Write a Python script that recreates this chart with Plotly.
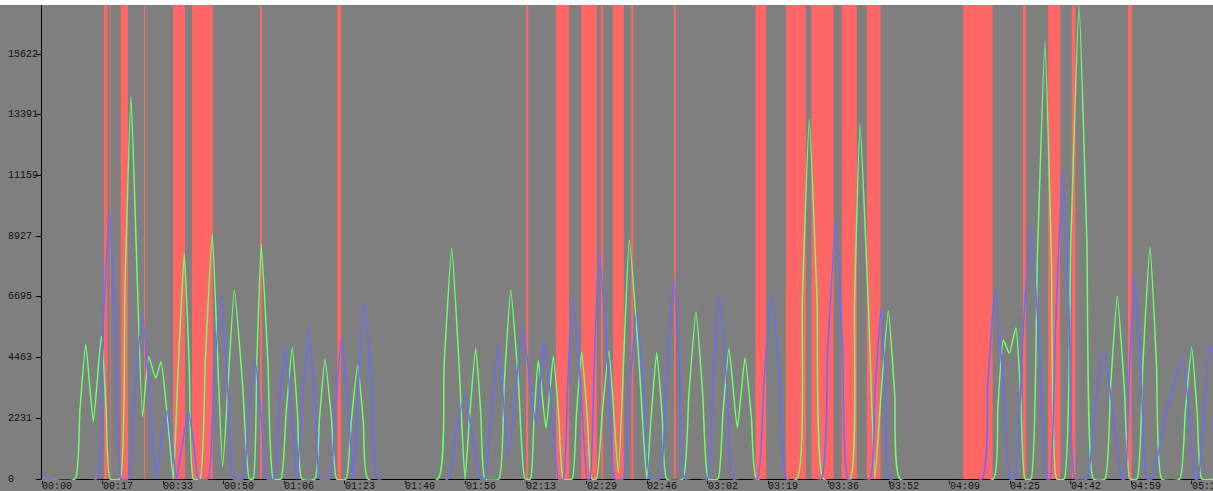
import plotly.graph_objects as go

# ---- data (time in seconds, value) ----
green_t = [0, 9.05, 10.37, 11.98, 14.06, 16.26, 17.57, 18.64, 21.38, 22.74, 24.40, 27.55, 29.25, 31.19,
           32.62, 34.47, 35.99, 37.35, 39.01, 40.36, 41.47, 43.30, 44.82, 46.68, 49.53, 52.71, 54.98,
           56.83, 57.90, 58.89, 60.11, 61.92, 63.41, 65.52, 66.91, 68.61, 70.03, 71.19, 74.84, 76.07,
           77.58, 79.34, 80.78, 83.33, 84.77, 86.54, 88.09, 89.36, 108.55, 110.24, 112.31, 114.31,
           115.95, 117.27, 118.89, 120.29, 121.44, 125.27, 126.71, 128.48, 130.64, 132.40, 133.90,
           134.87, 136.05, 138.16, 140.16, 141.67, 142.90, 145.30, 146.49, 147.94, 149.45, 150.69,
           152.00, 153.54, 155.43, 157.98, 160.99, 163.61, 165.76, 167.00, 168.50, 170.01, 171.24,
           175.70, 177.31, 179.28, 181.13, 182.65, 185.30, 186.66, 188.32, 190.60, 192.71, 194.48,
           195.92, 206.88, 208.43, 210.33, 212.44, 214.17, 221.49, 222.72, 224.23, 226.49, 228.34,
           229.98, 231.99, 233.76, 235.20, 260.77, 262.00, 263.51, 265.16, 266.99, 268.35, 269.46,
           271.10, 272.83, 274.95, 276.71, 278.15, 280.20, 282.03, 284.27, 286.43, 288.19, 291.40,
           292.92, 294.77, 296.68, 298.25, 300.20, 301.79, 303.73, 305.50, 306.94, 311.90, 313.37,
           315.16, 316.67, 317.90, 321.5]
green_v = [0, 0, 2481, 4962, 2106, 5256, 2628, 0, 0, 7021, 14042, 2290, 4496, 3705,
           4312, 2156, 0, 4148, 8296, 4148, 0, 0, 4498, 8995, 452, 6947, 3474,
           0, 0, 4314, 8627, 4314, 0, 0, 2421, 4841, 2421, 0, 0, 2206,
           4411, 2206, 0, 0, 2095, 4190, 2095, 0, 0, 4240, 8480, 4240,
           0, 2402, 4804, 2402, 0, 0, 3474, 6947, 3474, 0, 0,
           2187, 4374, 1864, 4521, 2260, 0, 0, 2340, 4679, 2340, 0,
           0, 2358, 4716, 210, 8785, 4392, 0, 2321, 4643, 2321, 0,
           0, 3075, 6150, 3075, 0, 0, 2402, 4804, 1864, 4459, 2230,
           0, 0, 6611, 13222, 6611, 0, 0, 6519, 13038, 6519, 0,
           3093, 6186, 3093, 0, 0, 2555, 5109, 4621, 5562, 2781, 0,
           0, 8037, 16074, 8037, 0, 0, 8700, 17400, 8700, 0, 0,
           3364, 6727, 3364, 0, 0, 4270, 8539, 4270, 0, 0, 2421,
           4841, 2421, 0, 0]

blue_t = [0, 14.99, 16.55, 18.45, 20.22, 21.66, 23.60, 25.35, 27.49, 29.56, 31.25, 32.61, 34.27, 35.70,
          36.87, 38.37, 40.21, 41.66, 42.85, 45.50, 47.07, 48.99, 50.89, 52.44, 55.10, 56.58, 58.39,
          60.16, 61.60, 63.60, 64.95, 66.61, 68.38, 69.82, 71.34, 73.19, 74.85, 76.21, 78.95, 80.39,
          82.15, 83.90, 85.33, 86.65, 88.27, 90.43, 92.19, 111.29, 113.30, 115.76, 118.13, 120.07,
          121.40, 123.11, 125.19, 127.82, 131.77, 135.42, 137.61, 139.77, 141.53, 142.90, 144.06,
          145.48, 147.68, 149.48, 150.20, 151.36, 152.77, 155.14, 157.07, 159.30, 160.97, 163.02,
          165.03, 166.67, 169.40, 171.13, 173.25, 174.91, 176.26, 182.30, 183.81, 185.66, 187.77,
          189.50, 196.00, 197.81, 200.03, 202.29, 204.13, 213.50, 215.37, 217.65, 219.50, 221.02,
          226.97, 228.33, 229.99, 231.35, 232.46, 257.60, 259.24, 261.24, 263.50, 265.35, 266.70,
          268.65, 271.03, 273.44, 275.41, 276.30, 277.88, 279.80, 281.65, 283.17, 286.50, 288.49,
          290.93, 293.70, 295.97, 296.90, 298.03, 299.42, 301.29, 302.82, 304.30, 308.30, 312.69,
          314.54, 316.06, 316.90, 318.46, 320.37, 322.5]
blue_v = [0, 0, 4931, 9862, 4931, 0, 0, 3033, 6065, 3033, 0, 1256, 2511, 1256,
          0, 1232, 2463, 1232, 0, 0, 3413, 6826, 3413, 0, 0, 2187, 4374,
          2187, 0, 0, 2445, 4889, 2445, 0, 2781, 5562, 2781, 0, 0, 2586,
          5172, 2586, 0, 3272, 6543, 3272, 0, 0, 1531, 3062, 1531, 0,
          0, 2450, 4900, 820, 5503, 1985, 5084, 2542, 0, 0, 3369,
          6738, 3369, 0, 0, 4178, 8355, 4178, 0, 0, 3075, 6150,
          3075, 0, 0, 3671, 7341, 3671, 0, 0, 3400, 6800, 3400,
          0, 0, 3424, 6848, 3424, 0, 0, 4760, 9520, 4760, 0,
          0, 3138, 6275, 3138, 0, 0, 3474, 6947, 3474, 0, 0,
          4711, 9421, 4711, 0, 0, 5679, 11358, 5679, 0, 0, 2371,
          4742, 2371, 0, 0, 3768, 7535, 3768, 0, 0, 2536, 4411,
          2206, 0, 0, 2463, 4926, 4000]

band_start = [17.0, 18.56, 21.57, 27.96, 35.91, 41.12, 59.76, 80.95, 132.68, 140.9, 147.8, 153.2,
              156.5, 161.5, 173.2, 195.6, 203.9, 210.9, 219.2, 226.1, 252.5, 268.9, 275.8, 282.3, 297.7]
band_end = [17.9, 18.83, 23.57, 28.23, 39.2, 46.79, 60.31, 81.96, 133.3, 144.5, 152.1, 153.8,
            159.5, 162.1, 173.7, 198.5, 209.4, 217.0, 223.4, 229.9, 260.6, 269.7, 279.1, 283.3, 298.7]

tick_step = 16.585
tick_text = ["00:00", "00:17", "00:33", "00:50", "01:06", "01:23", "01:40", "01:56", "02:13", "02:29",
             "02:46", "03:02", "03:19", "03:36", "03:52", "04:09", "04:25", "04:42", "04:59", "05:15"]
tick_vals = [i * tick_step for i in range(len(tick_text))]

y_tick_vals = [0, 2231, 4463, 6695, 8927, 11159, 13391, 15622]
y_tick_text = ["0", "2231", "4463", "6695", "8927", "11159", "13391", "15622"]

Y_MAX = 17423
Y_MIN = -36.76
X_MAX = 321.0

BG = "#7f7f7f"
RED = "#ff6666"
GREEN = "#6cff6c"
BLUE = "#6b6bff"
FONT = dict(family="Liberation Mono", size=10, color="#141414")

fig = go.Figure()

fig.add_trace(go.Scatter(x=green_t, y=green_v, mode="lines",
                         line=dict(color=GREEN, width=1.5, shape="spline", smoothing=0.45),
                         hoverinfo="skip", showlegend=False))
fig.add_trace(go.Scatter(x=blue_t, y=blue_v, mode="lines",
                         line=dict(color=BLUE, width=1.5, shape="spline", smoothing=0.45),
                         hoverinfo="skip", showlegend=False))

shapes = []
for s, e in zip(band_start, band_end):
    shapes.append(dict(type="rect", xref="x", yref="paper", x0=s, x1=e, y0=0, y1=1,
                       fillcolor=RED, line=dict(width=0), layer="below"))
# light strip above plot area
shapes.append(dict(type="rect", xref="paper", yref="paper", x0=-0.05, x1=1.05, y0=1.0, y1=1.05,
                   fillcolor="#ffffff", line=dict(width=0), layer="above"))

annotations = []
# y tick labels, left aligned at the figure's left edge
for v, txt in zip(y_tick_vals, y_tick_text):
    annotations.append(dict(xref="paper", yref="y", x=(6 - 42) / 1171.0, y=v, text=txt,
                            xanchor="left", yanchor="middle", showarrow=False, font=FONT))
# x tick labels, left aligned at each tick
for v, txt in zip(tick_vals, tick_text):
    annotations.append(dict(xref="x", yref="paper", x=v, y=0.0, text=txt, xshift=-1,
                            xanchor="left", yanchor="top", showarrow=False, font=FONT,
                            borderpad=0))

fig.update_layout(
    width=1213, height=491,
    margin=dict(l=42, r=0, t=5, b=11, autoexpand=False),
    paper_bgcolor=BG, plot_bgcolor=BG,
    shapes=shapes, annotations=annotations,
    showlegend=False,
    xaxis=dict(range=[0, X_MAX], tickmode="array", tickvals=tick_vals, showticklabels=False,
               showgrid=False, zeroline=False, showline=False, automargin=False,
               ticks="outside", ticklen=3, tickcolor="#000000",
               layer="below traces", fixedrange=True),
    yaxis=dict(range=[Y_MIN, Y_MAX], tickmode="array", tickvals=y_tick_vals,
               showticklabels=False, automargin=False,
               showgrid=False, zeroline=True, zerolinecolor="#000000", zerolinewidth=1,
               showline=True, linecolor="#000000", linewidth=1,
               ticks="outside", ticklen=5, tickcolor="#000000", layer="below traces", fixedrange=True),
)

fig.write_html("out.html", config={"displayModeBar": False},
               post_script="document.body.style.margin='0px';document.body.style.overflow='hidden';")
